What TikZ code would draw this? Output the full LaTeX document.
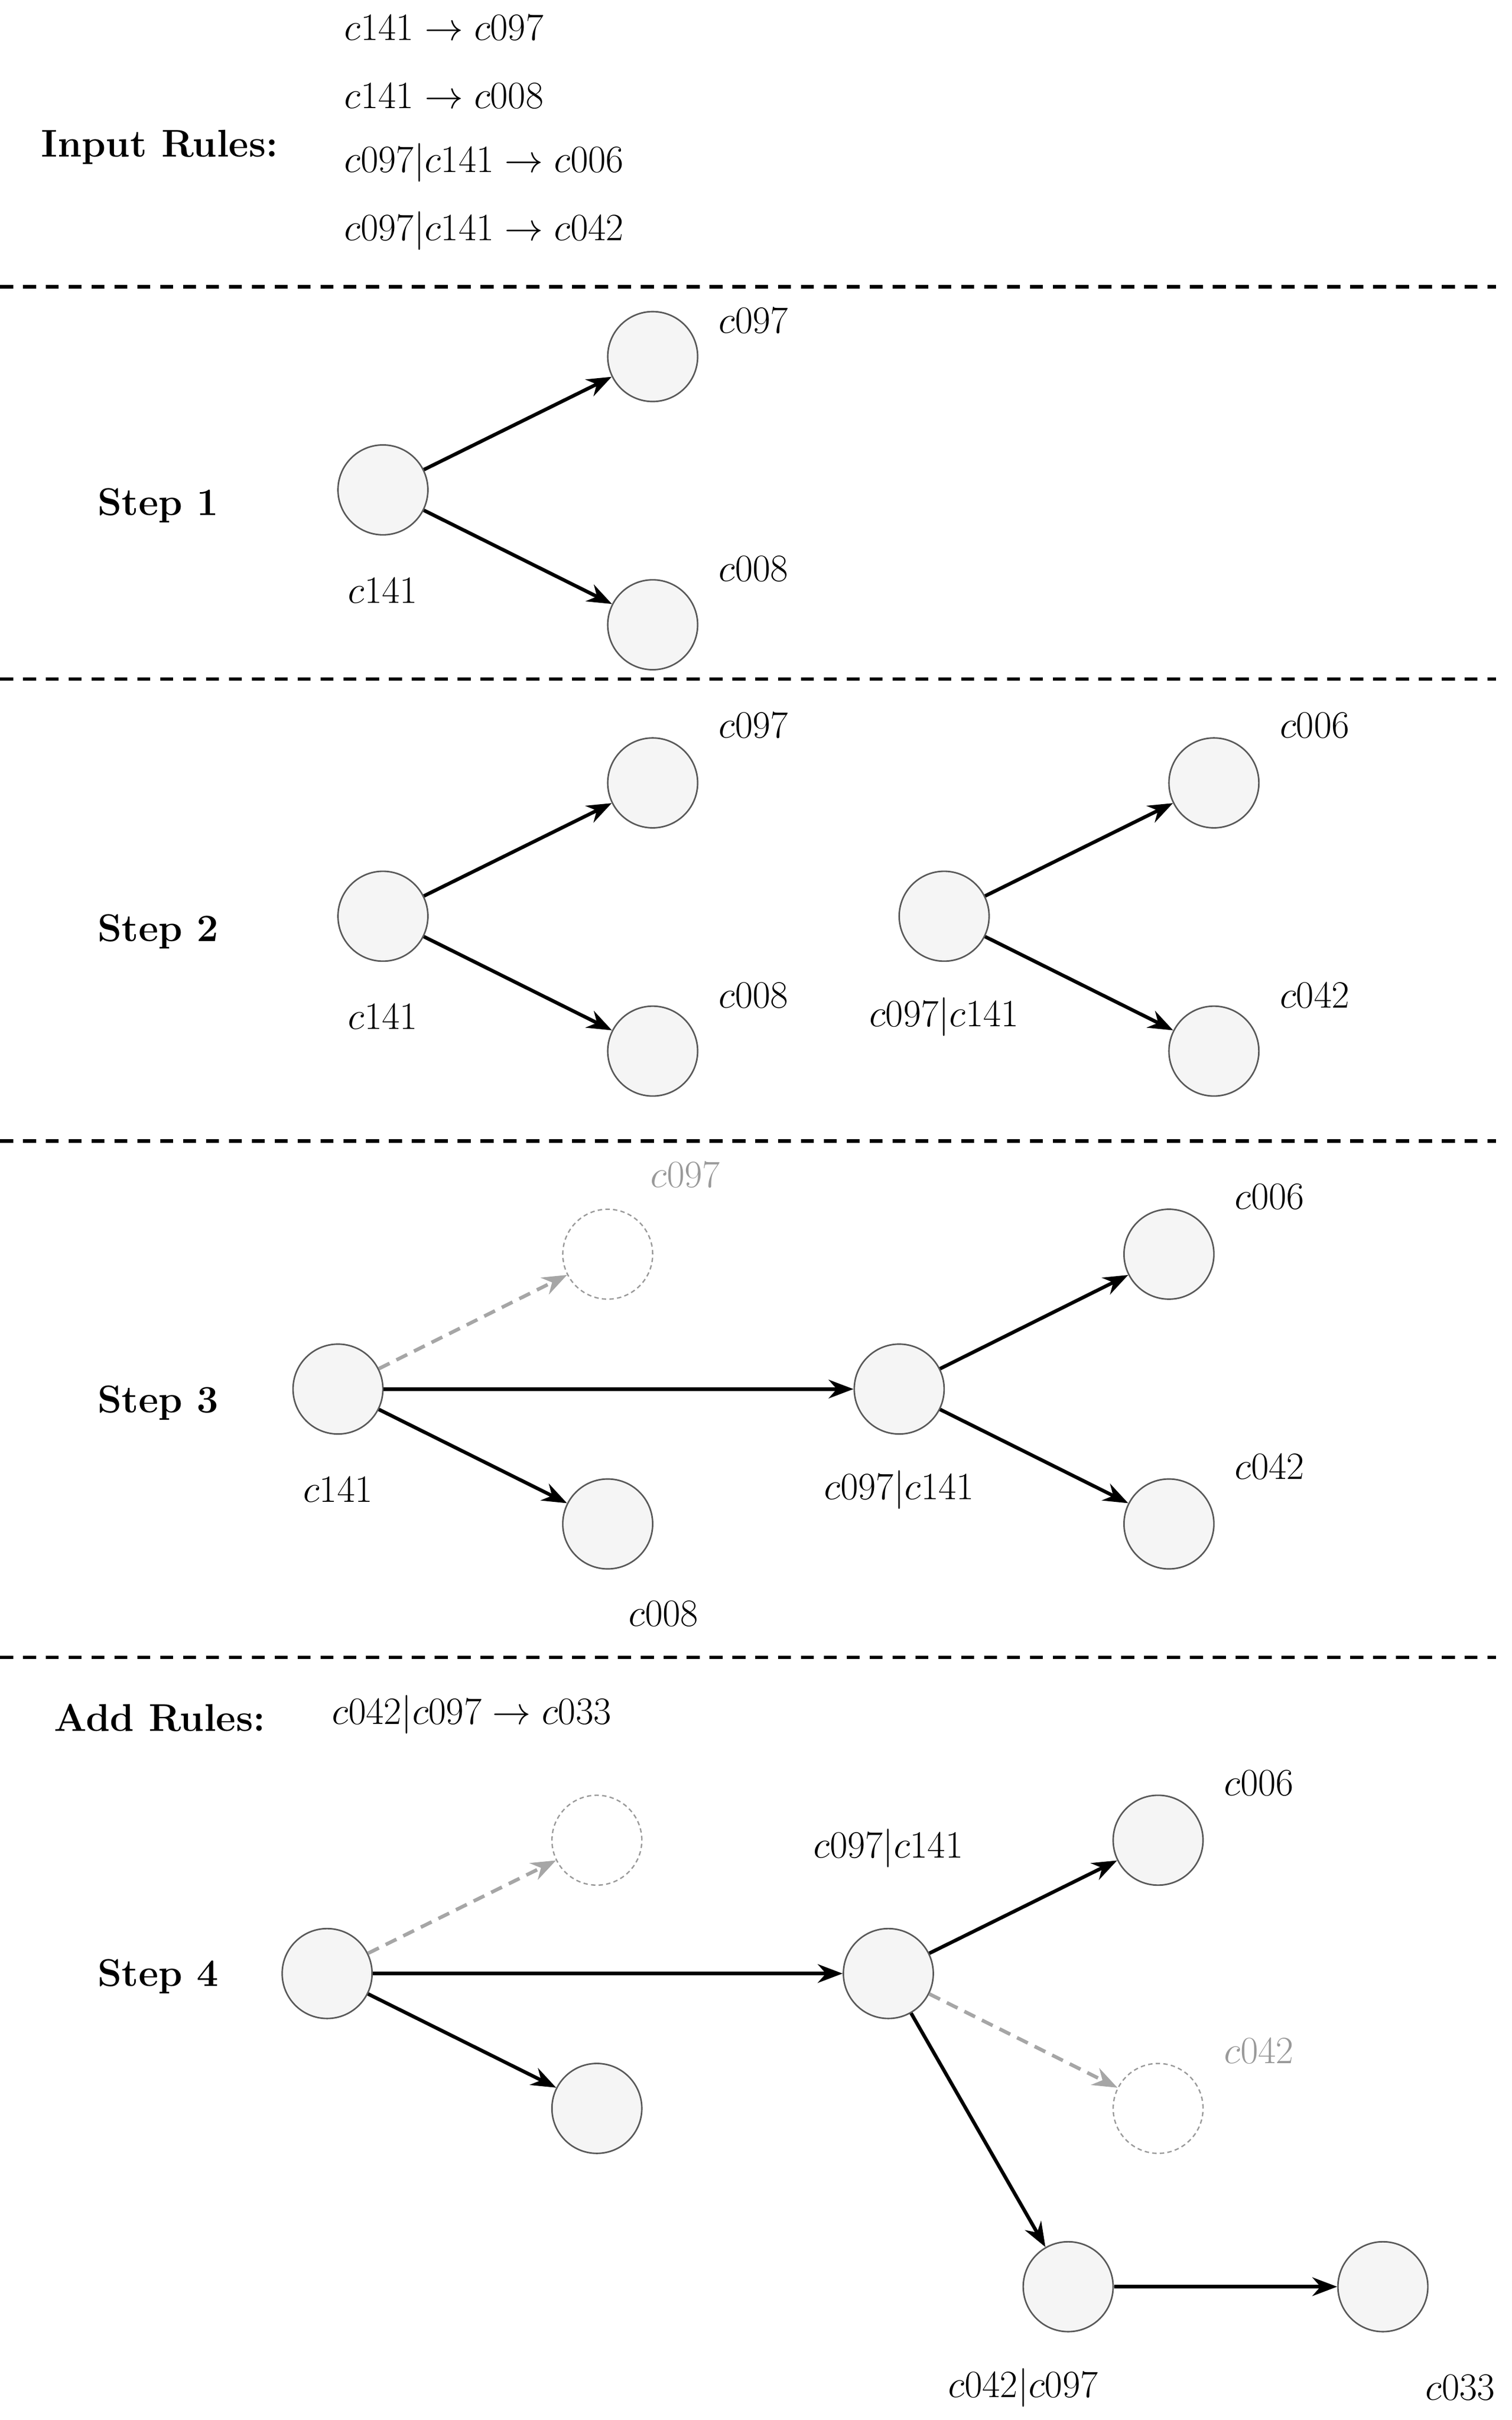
\documentclass[tikz,border=0pt]{standalone}
\usetikzlibrary{arrows.meta}
\begin{document}
\begin{tikzpicture}[x=0.1cm,y=-0.1cm,
  txt/.style={font=\Huge, scale=2.85, inner sep=0pt},
  bt/.style={txt, font=\Huge\bfseries},
  gt/.style={txt, text=gray!80},
  nd/.style={circle, draw=black!65, fill=black!4, line width=2.8pt, minimum size=5.8cm, inner sep=0pt},
  gh/.style={circle, draw=gray!80, dash pattern=on 8pt off 6pt, line width=2.5pt, minimum size=5.8cm, inner sep=0pt},
  ar/.style={-{Stealth[length=1.6cm,width=1.2cm]}, line width=6.5pt, black},
  ga/.style={ar, gray!70, dash pattern=on 22pt off 14pt},
  sep/.style={line width=6pt, dash pattern=on 24pt off 18pt}]
\useasboundingbox[fill=white] (0,0) rectangle (975,1561);
% header
\node[bt] (ir) at (103,95) {Input Rules:};
\node[txt,anchor=west] (r1) at (222,18) {$c141 \to c097$};
\node[txt,anchor=west] (r2) at (222,62) {$c141 \to c008$};
\node[txt,anchor=west] (r3) at (222,105) {$c097|c141 \to c006$};
\node[txt,anchor=west] (r4) at (222,149) {$c097|c141 \to c042$};
\coordinate (d1a) at (0,185); \coordinate (d1b) at (965,185);
\draw[sep] (d1a) -- (d1b);
% step 1
\node[bt] (s1) at (102,326) {Step 1};
\node[nd] (a1) at (247,316) {};
\node[nd] (b1) at (421,230) {};
\node[nd] (c1) at (421,403) {};
\draw[ar] (a1) -- (b1); \draw[ar] (a1) -- (c1);
\node[txt] (la1) at (247,381) {$c141$};
\node[txt] (lb1) at (486,207) {$c097$};
\node[txt] (lc1) at (486,367) {$c008$};
\coordinate (d2a) at (0,438); \coordinate (d2b) at (965,438);
\draw[sep] (d2a) -- (d2b);
% step 2
\node[bt] (s2) at (102,601) {Step 2};
\node[nd] (a2) at (247,591) {};
\node[nd] (b2) at (421,505) {};
\node[nd] (c2) at (421,678) {};
\draw[ar] (a2) -- (b2); \draw[ar] (a2) -- (c2);
\node[txt] (la2) at (247,656) {$c141$};
\node[txt] (lb2) at (486,468) {$c097$};
\node[txt] (lc2) at (486,642) {$c008$};
\node[nd] (m2) at (609,591) {};
\node[nd] (e2) at (783,505) {};
\node[nd] (f2) at (783,678) {};
\draw[ar] (m2) -- (e2); \draw[ar] (m2) -- (f2);
\node[txt] (lm2) at (609,656) {$c097|c141$};
\node[txt] (le2) at (848,468) {$c006$};
\node[txt] (lf2) at (848,642) {$c042$};
\coordinate (d3a) at (0,736); \coordinate (d3b) at (965,736);
\draw[sep] (d3a) -- (d3b);
% step 3
\node[bt] (s3) at (102,905) {Step 3};
\node[nd] (a3) at (218,896) {};
\node[gh] (b3) at (392,809) {};
\node[nd] (c3) at (392,983) {};
\node[nd] (m3) at (580,896) {};
\node[nd] (e3) at (754,809) {};
\node[nd] (f3) at (754,983) {};
\draw[ga] (a3) -- (b3); \draw[ar] (a3) -- (c3); \draw[ar] (a3) -- (m3);
\draw[ar] (m3) -- (e3); \draw[ar] (m3) -- (f3);
\node[gt] (lb3) at (442,758) {$c097$};
\node[txt] (la3) at (218,961) {$c141$};
\node[txt] (lc3) at (428,1041) {$c008$};
\node[txt] (lm3) at (580,961) {$c097|c141$};
\node[txt] (le3) at (819,772) {$c006$};
\node[txt] (lf3) at (819,946) {$c042$};
\coordinate (d4a) at (0,1069); \coordinate (d4b) at (965,1069);
\draw[sep] (d4a) -- (d4b);
% add rules / step 4
\node[bt] (ar4) at (103,1108) {Add Rules:};
\node[txt,anchor=west] (r5) at (214,1106) {$c042|c097 \to c033$};
\node[bt] (s4) at (102,1275) {Step 4};
\node[nd] (a4) at (211,1273) {};
\node[gh] (b4) at (385,1187) {};
\node[nd] (c4) at (385,1360) {};
\node[nd] (m4) at (573,1273) {};
\node[nd] (e4) at (747,1187) {};
\node[gh] (f4) at (747,1360) {};
\node[nd] (g4) at (689,1475) {};
\node[nd] (h4) at (892,1475) {};
\draw[ga] (a4) -- (b4); \draw[ar] (a4) -- (c4); \draw[ar] (a4) -- (m4);
\draw[ar] (m4) -- (e4); \draw[ga] (m4) -- (f4); \draw[ar] (m4) -- (g4);
\draw[ar] (g4) -- (h4);
\node[txt] (lm4) at (573,1192) {$c097|c141$};
\node[txt] (le4) at (812,1150) {$c006$};
\node[gt] (lf4) at (812,1323) {$c042$};
\node[txt] (lg4) at (660,1540) {$c042|c097$};
\node[txt] (lh4) at (942,1540) {$c033$};
\end{tikzpicture}
\end{document}
